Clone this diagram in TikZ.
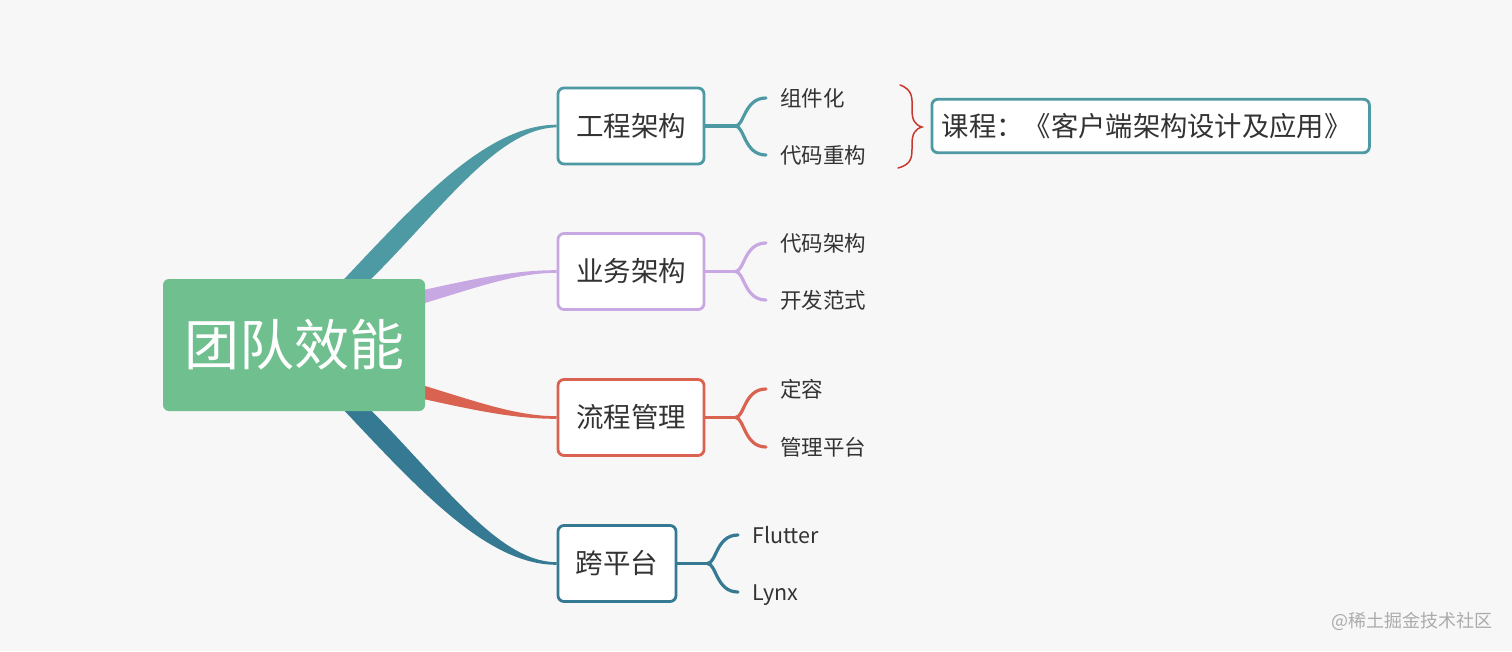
\documentclass[tikz,border=0pt]{standalone}
\usepackage{fontspec}
\setmainfont{Noto Sans CJK SC}
\usetikzlibrary{calc,backgrounds}
\definecolor{bg}{HTML}{F7F7F7}
\definecolor{cgreen}{HTML}{6FBF8F}
\definecolor{cone}{HTML}{4E9AA4}
\definecolor{ctwo}{HTML}{C8A8E2}
\definecolor{cthree}{HTML}{D96350}
\definecolor{cfour}{HTML}{357A92}
\definecolor{txt}{HTML}{333333}
\definecolor{wmc}{HTML}{ABABAB}
\definecolor{bracec}{HTML}{C8372D}
\tikzset{
  rootbox/.style={fill=cgreen, rounded corners=6, minimum width=262, minimum height=132,
    text=white, font=\fontsize{55}{60}\selectfont, inner sep=0},
  branchbox/.style={draw, line width=2.8, fill=white, rounded corners=6, minimum height=76,
    text=txt, font=\fontsize{27.5}{30}\selectfont, inner sep=0},
  leaf/.style={anchor=west, inner sep=0, text=txt, font=\fontsize{21.5}{24}\selectfont},
  subline/.style={line width=3.2, line cap=round},
  coursebox/.style={draw=cone, fill=white, line width=2.8, rounded corners=6, minimum height=53.5,
    text width=417.5, inner xsep=10, inner ysep=0, align=left, anchor=west, text=txt,
    font=\fontsize{27.3}{30}\selectfont}
}
\begin{document}
\begin{tikzpicture}[x=1pt,y=-1pt]
\useasboundingbox (0,0) rectangle (1512,651);

% nodes
\node[rootbox] (c) at (294,345) {团队效能};
\node[branchbox, draw=cone, minimum width=146] (ge) at (631,126) {工程架构};
\node[branchbox, draw=ctwo, minimum width=146] (yw) at (631,271.5) {业务架构};
\node[branchbox, draw=cthree, minimum width=146] (lc) at (631,417.5) {流程管理};
\node[branchbox, draw=cfour, minimum width=118] (kp) at (617,563.5) {跨平台};

\node[leaf] (g1) at (780,98) {组件化};
\node[leaf] (g2) at (780,155) {代码重构};
\node[leaf] (y1) at (780,243) {代码架构};
\node[leaf] (y2) at (780,300) {开发范式};
\node[leaf] (l1) at (780,389) {定容};
\node[leaf] (l2) at (780,447) {管理平台};
\node[leaf] (k1) at (752,535) {Flutter};
\node[leaf] (k2) at (752,595) {Lynx};

\node[coursebox] (kc) at (930.5,126) {课程：《客户端架构设计及应用》};

\node[anchor=east, inner sep=0, text=wmc, font=\fontsize{18}{20}\selectfont] (wm) at (1493,621) {@稀土掘金技术社区};

% brace
\draw[bracec, line width=1.5, line cap=round] (900,85) .. controls (914,90) and (912,100) .. (912,110)
  .. controls (912,120) and (915,125) .. (922,127)
  .. controls (915,129) and (912,134) .. (912,144)
  .. controls (912,156) and (913,164) .. (898,168);

% sub connectors
\draw[subline, cone] (ge.east) -- ++(30,0) coordinate (gj);
\draw[subline, cone] (gj) .. controls +(9,0) and +(-22,0) .. ($(g1.west)+(-14,0)$);
\draw[subline, cone] (gj) .. controls +(9,0) and +(-22,0) .. ($(g2.west)+(-14,0)$);
\draw[subline, ctwo] (yw.east) -- ++(30,0) coordinate (yj);
\draw[subline, ctwo] (yj) .. controls +(9,0) and +(-22,0) .. ($(y1.west)+(-14,0)$);
\draw[subline, ctwo] (yj) .. controls +(9,0) and +(-22,0) .. ($(y2.west)+(-14,0)$);
\draw[subline, cthree] (lc.east) -- ++(30,0) coordinate (lj);
\draw[subline, cthree] (lj) .. controls +(9,0) and +(-22,0) .. ($(l1.west)+(-14,0)$);
\draw[subline, cthree] (lj) .. controls +(9,0) and +(-22,0) .. ($(l2.west)+(-14,0)$);
\draw[subline, cfour] (kp.east) -- ++(30,0) coordinate (kj);
\draw[subline, cfour] (kj) .. controls +(9,0) and +(-22,0) .. ($(k1.west)+(-14,0)$);
\draw[subline, cfour] (kj) .. controls +(9,0) and +(-22,0) .. ($(k2.west)+(-14,-3)$);

% tapered main branches
\begin{scope}[on background layer]
\fill[bg] (0,0) rectangle (1512,651);
\fill[cone] (332,292) .. controls (414,205) and (485,125) .. ($(ge.west)+(0,-1.3)$)
  -- ($(ge.west)+(0,1.3)$) .. controls (495,128.5) and (438,215) .. (358,292) -- cycle;
\fill[cfour] (332,397.5) .. controls (414,484.5) and (485,565) .. ($(kp.west)+(0,1.3)$)
  -- ($(kp.west)+(0,-1.3)$) .. controls (495,562) and (438,474.5) .. (358,397.5) -- cycle;
\fill[ctwo] (405,294) .. controls (465,281) and (510,270) .. ($(yw.west)+(0,-1.3)$)
  -- ($(yw.west)+(0,1.3)$) .. controls (512,273) and (470,290) .. (405,309) -- cycle;
\fill[cthree] (405,395) .. controls (465,408) and (510,419) .. ($(lc.west)+(0,1.3)$)
  -- ($(lc.west)+(0,-1.3)$) .. controls (512,416) and (470,399) .. (405,380) -- cycle;
\end{scope}
\end{tikzpicture}
\end{document}
